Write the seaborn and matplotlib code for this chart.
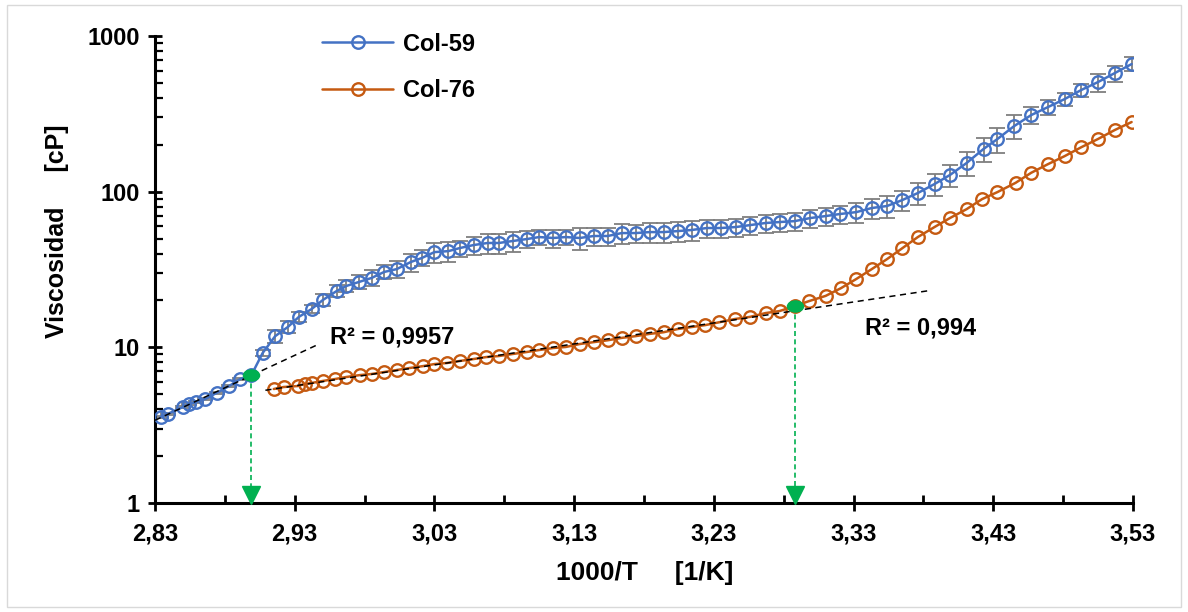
import numpy as np
import matplotlib
matplotlib.use("Agg")
import matplotlib.pyplot as plt
import seaborn as sns
from matplotlib.markers import MarkerStyle
from matplotlib.transforms import Affine2D
from matplotlib.patches import Rectangle

# Col-59 (x = 1000/T, viscosity in cP, error bar in cP)
x59 = [2.834, 2.839, 2.850, 2.854, 2.859, 2.866, 2.874, 2.883, 2.891, 2.899,
       2.907, 2.916, 2.925, 2.933, 2.942, 2.950, 2.960, 2.967, 2.976, 2.985,
       2.994, 3.003, 3.013, 3.021, 3.030, 3.040, 3.048, 3.058, 3.068, 3.076,
       3.086, 3.096, 3.105, 3.115, 3.124, 3.134, 3.144, 3.154, 3.164, 3.174,
       3.184, 3.194, 3.204, 3.214, 3.225, 3.235, 3.246, 3.256, 3.267, 3.277,
       3.288, 3.299, 3.310, 3.320, 3.332, 3.343, 3.354, 3.365, 3.376, 3.388,
       3.399, 3.411, 3.423, 3.433, 3.445, 3.457, 3.469, 3.481, 3.493, 3.505,
       3.517, 3.529]
y59 = [3.57, 3.73, 4.14, 4.32, 4.45, 4.66, 5.09, 5.64, 6.26, 6.64,
       9.19, 11.8, 13.5, 15.7, 17.6, 20.1, 23.0, 24.8, 26.3, 27.9,
       30.5, 31.8, 35.3, 37.5, 40.9, 41.5, 43.4, 45.4, 46.8, 46.8,
       48.2, 49.6, 51.1, 50.4, 51.1, 50.4, 51.9, 51.9, 54.2, 54.2,
       55.0, 55.0, 55.8, 56.7, 58.4, 58.4, 59.3, 61.0, 62.9, 63.8,
       64.7, 67.7, 69.7, 71.8, 73.9, 78.5, 80.9, 88.4, 98.0, 112,
       128, 153, 188, 218, 264, 310, 349, 393, 450, 506,
       578, 660]
err59 = [0.05, 0.06, 0.06, 0.07, 0.07, 0.07, 0.08, 0.08, 0.09, 0.10,
         0.4, 1.2, 1.2, 1.2, 1.0, 1.8, 2.0, 2.2, 2.7, 3.3,
         3.2, 3.8, 4.7, 4.4, 6.0, 6.1, 5.1, 6.0, 6.9, 6.9,
         7.1, 5.9, 6.0, 6.7, 6.0, 8.2, 6.9, 6.9, 8.0, 7.2,
         8.1, 8.1, 8.3, 8.4, 7.8, 7.8, 7.9, 8.1, 8.4, 8.5,
         8.6, 9.0, 9.3, 9.6, 10.9, 11.6, 13.2, 13.1, 16.0, 18.2,
         20.8, 27, 33, 40, 45, 39, 39, 38, 43, 67,
         68, 68]

# Col-76
x76 = [2.915, 2.922, 2.932, 2.937, 2.942, 2.950, 2.959, 2.967, 2.977, 2.985,
       2.994, 3.003, 3.012, 3.022, 3.030, 3.039, 3.048, 3.058, 3.067, 3.076,
       3.086, 3.096, 3.105, 3.115, 3.124, 3.134, 3.144, 3.154, 3.164, 3.174,
       3.184, 3.194, 3.204, 3.214, 3.224, 3.234, 3.245, 3.256, 3.267, 3.277,
       3.288, 3.298, 3.310, 3.321, 3.332, 3.343, 3.354, 3.365, 3.376, 3.388,
       3.399, 3.411, 3.422, 3.433, 3.446, 3.457, 3.469, 3.481, 3.493, 3.505,
       3.517, 3.529]
y76 = [5.40, 5.56, 5.64, 5.81, 5.90, 6.08, 6.26, 6.45, 6.64, 6.74,
       6.94, 7.15, 7.36, 7.58, 7.81, 7.93, 8.17, 8.41, 8.66, 8.79,
       9.06, 9.33, 9.61, 9.90, 10.05, 10.5, 10.8, 11.1, 11.5, 11.8,
       12.2, 12.5, 13.1, 13.5, 13.9, 14.5, 15.2, 15.7, 16.6, 17.1,
       18.4, 19.8, 21.4, 24.0, 27.5, 31.8, 36.9, 43.4, 51.1, 59.3,
       67.7, 77.3, 89.6, 99.4, 114, 132, 150, 169, 193, 218,
       249, 280]

# trend lines: points used in the fit, drawn range and R2
fit59_n = 10
fit59_range = [2.83, 2.948]
fit76_n = 41
fit76_range = [2.909, 3.385]
r2_labels = ["R² = 0,9957", "R² = 0,994"]

xticks = [2.83, 2.93, 3.03, 3.13, 3.23, 3.33, 3.43, 3.53]
xtick_labels = ["2,83", "2,93", "3,03", "3,13", "3,23", "3,33", "3,43", "3,53"]
yticks = [1, 10, 100, 1000]
ytick_labels = ["1", "10", "100", "1000"]

blue = "#4472C4"
orange = "#C55A11"
green = "#00B050"

sns.set_style("ticks")
plt.rcParams["font.family"] = ["Liberation Sans", "DejaVu Sans"]
plt.rcParams["font.weight"] = "bold"
plt.rcParams["text.color"] = "black"
plt.rcParams["axes.labelcolor"] = "black"
plt.rcParams["xtick.color"] = "black"
plt.rcParams["ytick.color"] = "black"

fig = plt.figure(figsize=(11.88, 6.12), dpi=100)
ax = fig.add_axes([0.1305, 0.1781, 0.8232, 0.7631])

ax.errorbar(x59, y59, yerr=err59, fmt="none", ecolor="#7F7F7F",
            elinewidth=1.3, capsize=6, capthick=1.3, zorder=2)

sns.lineplot(x=x59, y=y59, ax=ax, sort=False, color=blue, linewidth=1.8,
             marker="o", markersize=9, markerfacecolor="none",
             markeredgecolor=blue, markeredgewidth=1.7, label="Col-59", zorder=3)
sns.lineplot(x=x76, y=y76, ax=ax, sort=False, color=orange, linewidth=1.8,
             marker="o", markersize=9, markerfacecolor="none",
             markeredgecolor=orange, markeredgewidth=1.7, label="Col-76", zorder=3)

# exponential trend lines (linear in log10)
for xs, ys, n, rng in [(x59, y59, fit59_n, fit59_range), (x76, y76, fit76_n, fit76_range)]:
    p = np.polyfit(xs[:n], np.log10(ys[:n]), 1)
    xx = np.array(rng)
    ax.plot(xx, 10 ** np.polyval(p, xx), color="black", lw=1.1,
            dashes=(4, 3), zorder=4)

# break points
ell = MarkerStyle("o", transform=Affine2D().scale(1.45, 1.0))
for xs, ys, n in [(x59, y59, fit59_n), (x76, y76, fit76_n)]:
    xb, yb = xs[n - 1], ys[n - 1]
    ax.plot([xb, xb], [yb, 1.2], color=green, lw=1.2, dashes=(3, 2), zorder=4)
    ax.plot([xb], [yb], marker=ell, markersize=8, color=green, zorder=5)
    ax.plot([xb], [1.13], marker="v", markersize=13, color=green, zorder=5,
            clip_on=False)

ax.text(2.955, 11.6, r2_labels[0], fontsize=17, fontweight="bold", va="center")
ax.text(3.338, 13.3, r2_labels[1], fontsize=17, fontweight="bold", va="center")

ax.set_yscale("log")
ax.set_xlim(2.83, 3.53)
ax.set_ylim(1, 1000)
ax.set_xticks(xticks)
ax.set_xticklabels(xtick_labels)
ax.set_xticks(np.array(xticks[:-1]) + 0.05, minor=True)
ax.set_yticks(yticks)
ax.set_yticklabels(ytick_labels)
ax.yaxis.set_minor_locator(matplotlib.ticker.LogLocator(base=10, subs=np.arange(2, 10)))
ax.yaxis.set_minor_formatter(matplotlib.ticker.NullFormatter())

for lab in ax.get_xticklabels() + ax.get_yticklabels():
    lab.set_fontsize(17)
    lab.set_fontweight("bold")
    lab.set_color("black")

ax.tick_params(axis="x", which="major", direction="inout", length=12, width=2, pad=8)
ax.tick_params(axis="x", which="minor", direction="in", length=6, width=2)
ax.tick_params(axis="y", which="major", direction="inout", length=10, width=2, pad=6)
ax.tick_params(axis="y", which="minor", direction="in", length=6, width=1.6)

sns.despine(ax=ax)
for s in ["left", "bottom"]:
    ax.spines[s].set_linewidth(2.2)
    ax.spines[s].set_color("black")

ax.set_xlabel("1000/T     [1/K]", fontsize=19, fontweight="bold")
ax.set_ylabel("Viscosidad     [cP]", fontsize=18, fontweight="bold")
ax.xaxis.label.set_va("center")
ax.yaxis.label.set_va("center")
ax.xaxis.set_label_coords(0.501, -0.15)
ax.yaxis.set_label_coords(-0.100, 0.582)

ax.legend(loc="upper left", bbox_to_anchor=(0.171, 1.007), frameon=False,
          handlelength=3.0, handletextpad=0.4, labelspacing=1.0,
          borderaxespad=0, borderpad=0, prop={"weight": "bold", "size": 17})

fig.patches.append(Rectangle((0.006, 0.008), 0.988, 0.984, transform=fig.transFigure,
                             fill=False, edgecolor="#D9D9D9", lw=1))

fig.savefig("out.png", dpi=100)
